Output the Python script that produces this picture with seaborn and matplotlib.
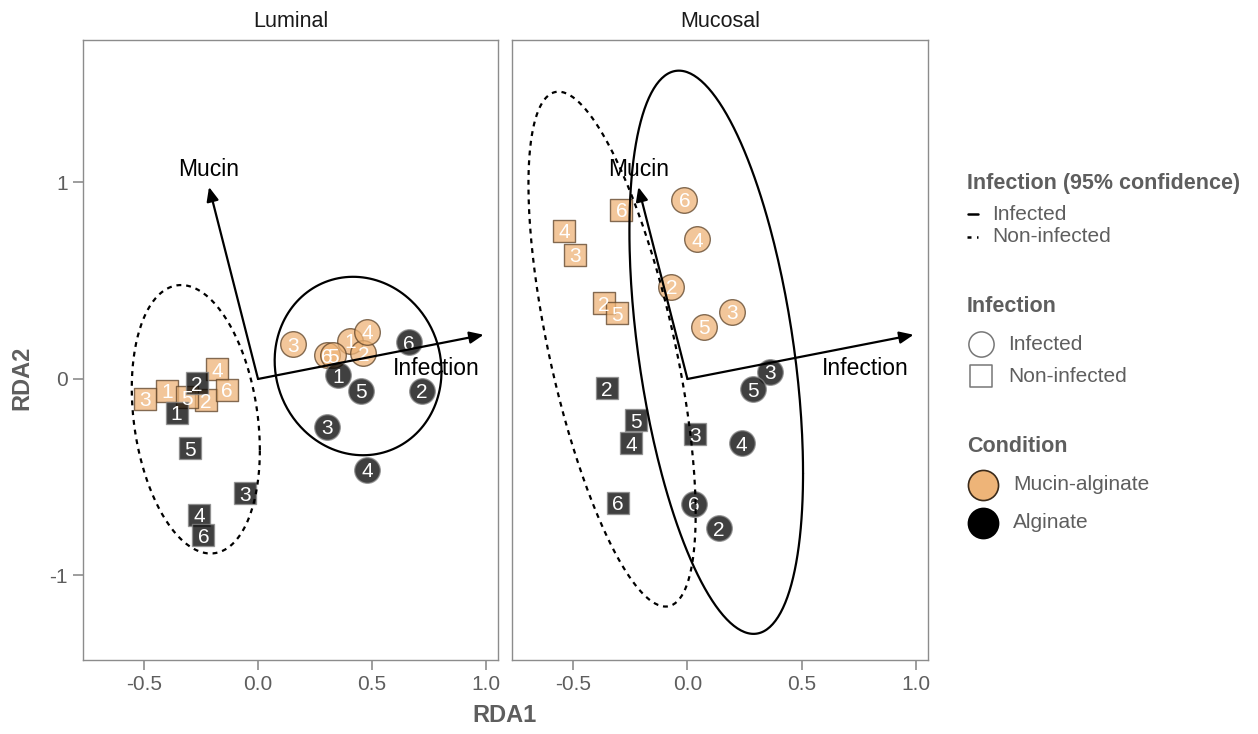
import numpy as np
import pandas as pd
import matplotlib
matplotlib.use("Agg")
import matplotlib.pyplot as plt
import seaborn as sns

sns.set_theme(style="white")
plt.rcParams["font.family"] = ["Liberation Sans", "DejaVu Sans"]
plt.rcParams["axes.unicode_minus"] = False

# ---- sample scores (RDA1, RDA2) per compartment ----
panels = ["Luminal", "Mucosal"]

# Luminal
lum_ma_ni_rep = [1, 2, 3, 4, 5, 6]
lum_ma_ni_x = [-0.400, -0.228, -0.496, -0.178, -0.313, -0.137]
lum_ma_ni_y = [-0.060, -0.107, -0.100, 0.049, -0.093, -0.056]
lum_al_ni_rep = [1, 2, 3, 4, 5, 6]
lum_al_ni_x = [-0.357, -0.269, -0.057, -0.259, -0.298, -0.240]
lum_al_ni_y = [-0.171, -0.022, -0.582, -0.692, -0.352, -0.794]
lum_ma_in_rep = [1, 2, 3, 4, 6, 5]
lum_ma_in_x = [0.404, 0.462, 0.155, 0.480, 0.304, 0.330]
lum_ma_in_y = [0.195, 0.131, 0.177, 0.241, 0.122, 0.122]
lum_al_in_rep = [1, 2, 3, 4, 5, 6]
lum_al_in_x = [0.352, 0.718, 0.304, 0.480, 0.450, 0.662]
lum_al_in_y = [0.020, -0.061, -0.243, -0.463, -0.061, 0.187]

# Mucosal
muc_ma_ni_rep = [2, 3, 4, 5, 6]
muc_ma_ni_x = [-0.367, -0.491, -0.539, -0.308, -0.289]
muc_ma_ni_y = [0.385, 0.631, 0.755, 0.334, 0.860]
muc_al_ni_rep = [2, 3, 4, 5, 6]
muc_al_ni_x = [-0.352, 0.035, -0.247, -0.224, -0.306]
muc_al_ni_y = [-0.048, -0.280, -0.328, -0.209, -0.629]
muc_ma_in_rep = [2, 3, 4, 5, 6]
muc_ma_in_x = [-0.070, 0.196, 0.042, 0.072, -0.013]
muc_ma_in_y = [0.470, 0.343, 0.711, 0.266, 0.911]
muc_al_in_rep = [2, 3, 4, 5, 6]
muc_al_in_x = [0.137, 0.361, 0.237, 0.288, 0.028]
muc_al_in_y = [-0.760, 0.037, -0.328, -0.053, -0.636]

# constraint vectors (biplot arrows)
vec_names = ["Mucin", "Infection"]
vec_x = [-0.215, 0.990]
vec_y = [0.977, 0.225]
vec_label_x = [-0.215, 0.780]
vec_label_y = [1.064, 0.055]

# 95% confidence ellipses: centre, half-extents, correlation
ell_panel = ["Luminal", "Luminal", "Mucosal", "Mucosal"]
ell_group = ["Non-infected", "Infected", "Non-infected", "Infected"]
ell_cx = [-0.273, 0.439, -0.330, 0.126]
ell_cy = [-0.205, 0.066, 0.152, 0.136]
ell_rx = [0.281, 0.366, 0.366, 0.380]
ell_ry = [0.683, 0.454, 1.310, 1.433]
ell_rho = [-0.23, -0.06, -0.64, -0.43]

records = []
def add(panel, cond, inf, reps, xs, ys):
    for r, x, y in zip(reps, xs, ys):
        records.append(dict(Panel=panel, Condition=cond, Infection=inf,
                            Replicate=r, RDA1=x, RDA2=y))

add("Luminal", "Mucin-alginate", "Non-infected", lum_ma_ni_rep, lum_ma_ni_x, lum_ma_ni_y)
add("Luminal", "Alginate", "Non-infected", lum_al_ni_rep, lum_al_ni_x, lum_al_ni_y)
add("Luminal", "Mucin-alginate", "Infected", lum_ma_in_rep, lum_ma_in_x, lum_ma_in_y)
add("Luminal", "Alginate", "Infected", lum_al_in_rep, lum_al_in_x, lum_al_in_y)
add("Mucosal", "Mucin-alginate", "Non-infected", muc_ma_ni_rep, muc_ma_ni_x, muc_ma_ni_y)
add("Mucosal", "Alginate", "Non-infected", muc_al_ni_rep, muc_al_ni_x, muc_al_ni_y)
add("Mucosal", "Mucin-alginate", "Infected", muc_ma_in_rep, muc_ma_in_x, muc_ma_in_y)
add("Mucosal", "Alginate", "Infected", muc_al_in_rep, muc_al_in_x, muc_al_in_y)
df = pd.DataFrame(records)

fill = {"Mucin-alginate": "#EEB478", "Alginate": "#000000"}
edge = {"Mucin-alginate": "#5C4126", "Alginate": "#8A8A8A"}
marker = {"Infected": "o", "Non-infected": "s"}
msize = {"Infected": 340, "Non-infected": 270}
ltype = {"Infected": "-", "Non-infected": (0, (2.2, 2.2))}

GREY_TXT = "#5E5E5E"
GREY_AX = "#8C8C8C"

W, H = 1258, 734
fig = plt.figure(figsize=(W / 100, H / 100), dpi=100)

def px_axes(x0, y0, x1, y1):
    return fig.add_axes([x0 / W, 1 - y1 / H, (x1 - x0) / W, (y1 - y0) / H])

axes = [px_axes(83, 40, 498, 660), px_axes(512, 40, 928, 660)]

t = np.linspace(0, 2 * np.pi, 300)
for ax, panel in zip(axes, panels):
    sub = df[df.Panel == panel]
    for inf in ["Non-infected", "Infected"]:
        for cond in ["Mucin-alginate", "Alginate"]:
            g = sub[(sub.Infection == inf) & (sub.Condition == cond)]
            sns.scatterplot(data=g, x="RDA1", y="RDA2", ax=ax, color=fill[cond],
                            marker=marker[inf], s=msize[inf], alpha=0.75,
                            edgecolor=edge[cond], linewidth=1.0, legend=False,
                            zorder=3)
    for _, row in sub.iterrows():
        ax.text(row.RDA1, row.RDA2, str(row.Replicate), ha="center",
                va="center_baseline", color="white", fontsize=15, zorder=4)

    for p, grp, cx, cy, rx, ry, rho in zip(ell_panel, ell_group, ell_cx, ell_cy,
                                           ell_rx, ell_ry, ell_rho):
        if p != panel:
            continue
        ex = cx + rx * np.cos(t)
        ey = cy + ry * (rho * np.cos(t) + np.sqrt(1 - rho ** 2) * np.sin(t))
        ax.plot(ex, ey, color="black", lw=1.6, linestyle=ltype[grp], zorder=5)

    for name, vx, vy, lx, ly in zip(vec_names, vec_x, vec_y, vec_label_x, vec_label_y):
        ax.annotate("", xy=(vx, vy), xytext=(0, 0), zorder=6,
                    arrowprops=dict(arrowstyle="-|>,head_length=0.7,head_width=0.3",
                                    color="black", lw=1.6, shrinkA=0, shrinkB=0))
        ax.text(lx, ly, name, ha="center", va="center", fontsize=16.5,
                color="black", zorder=6)

    ax.set_xlim(-0.768, 1.053)
    ax.set_ylim(-1.43, 1.725)
    ax.set_xticks([-0.5, 0.0, 0.5, 1.0])
    ax.set_xticklabels(["-0.5", "0.0", "0.5", "1.0"])
    ax.set_yticks([-1, 0, 1])
    ax.set_xlabel("")
    ax.set_ylabel("")
    ax.tick_params(axis="both", which="major", length=7, width=1.2,
                   color=GREY_AX, labelcolor=GREY_TXT, labelsize=15, direction="out",
                   bottom=True, left=True, pad=4)
    for sp in ax.spines.values():
        sp.set_color(GREY_AX)
        sp.set_linewidth(1.0)
    ax.set_title(panel, fontsize=15.5, color="#1A1A1A", pad=9)

axes[1].tick_params(axis="y", left=False, labelleft=False)

fig.text(505 / W, 1 - 716 / H, "RDA1", ha="center", va="center",
         fontsize=17, fontweight="bold", color=GREY_TXT)
fig.text(22 / W, 1 - 378 / H, "RDA2", ha="center", va="center", rotation=90,
         fontsize=17, fontweight="bold", color=GREY_TXT)

# ---- legends, laid out in pixel space ----
lg = px_axes(940, 0, W, H)
lg.set_xlim(940, W)
lg.set_ylim(H, 0)
lg.axis("off")

def ltitle(y, s):
    lg.text(967, y, s, ha="left", va="center", fontsize=15.5,
            fontweight="bold", color=GREY_TXT)

def llabel(x, y, s):
    lg.text(x, y, s, ha="left", va="center", fontsize=15, color=GREY_TXT)

ltitle(183, "Infection (95% confidence)")
lg.plot([968, 978], [214, 214], color="black", lw=1.8, linestyle="-")
lg.plot([967, 978], [237, 237], color="black", lw=1.8, linestyle=(0, (1.6, 2.2)))
llabel(992, 214, "Infected")
llabel(992, 237, "Non-infected")

ltitle(307, "Infection")
lg.scatter([981], [344], s=330, marker="o", facecolor="white", edgecolor="#777777", lw=1.1)
lg.scatter([981], [376], s=265, marker="s", facecolor="white", edgecolor="#777777", lw=1.1)
llabel(1008, 344, "Infected")
llabel(1008, 376, "Non-infected")

ltitle(447, "Condition")
lg.scatter([983], [485], s=470, marker="o", facecolor=fill["Mucin-alginate"],
           edgecolor="#3A2A1A", lw=1.2)
lg.scatter([983], [523], s=470, marker="o", facecolor="black", edgecolor="black", lw=1.2)
llabel(1013, 485, "Mucin-alginate")
llabel(1013, 523, "Alginate")

fig.savefig("out.png", dpi=100, facecolor="white")
